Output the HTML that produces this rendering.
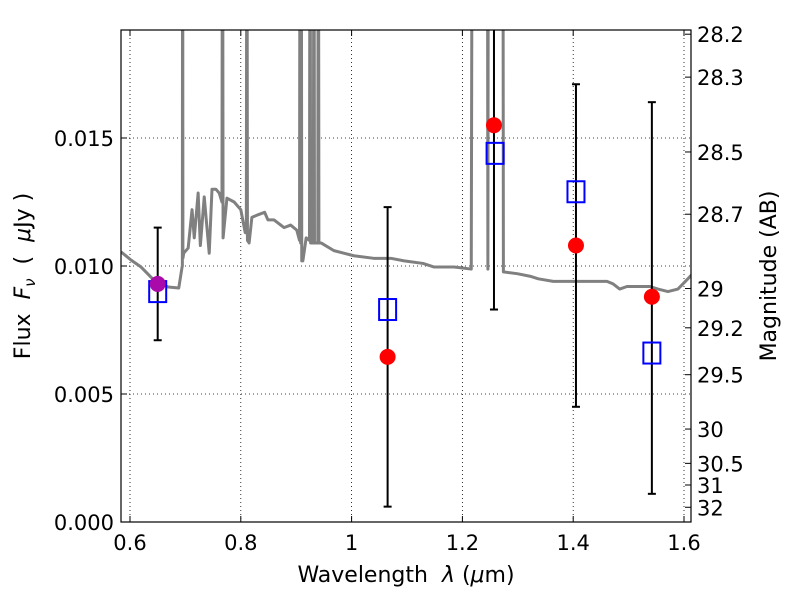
<!DOCTYPE html>
<html><head><meta charset="utf-8"><style>
body{margin:0;background:#fff;}
svg text{font-family:"DejaVu Sans","Liberation Sans",sans-serif;fill:#000;}
</style></head><body>
<svg id="c" width="800" height="600" xmlns="http://www.w3.org/2000/svg"></svg>
<script>
const xTicks=[0.6,0.8,1,1.2,1.4,1.6];
const xTickLabels=["0.6","0.8","1","1.2","1.4","1.6"];
const yTicks=[0,0.005,0.01,0.015];
const yTickLabels=["0.000","0.005","0.010","0.015"];
const magTicks=[28.2,28.3,28.5,28.7,29,29.2,29.5,30,30.5,31,32];
const magLabels=["28.2","28.3","28.5","28.7","29","29.2","29.5","30","30.5","31","32"];
const obsWave=[0.65,1.065,1.257,1.405,1.542];
const obsFlux=[0.0093,0.00645,0.0155,0.0108,0.0088];
const errLow=[0.0071,0.0006,0.0083,0.0045,0.0011];
const errHigh=[0.0115,0.0123,0.0250,0.0171,0.0164];
const modelWave=[0.65,1.065,1.259,1.405,1.542];
const modelFlux=[0.0090,0.0083,0.0144,0.0129,0.0066];
const specWave=[0.584,0.602,0.620,0.643,0.669,0.688,0.694,0.6945,0.695,0.6955,0.697,0.705,0.712,0.716,0.723,0.727,0.734,0.743,0.748,0.755,0.761,0.766,0.767,0.768,0.775,0.788,0.800,0.808,0.810,0.811,0.812,0.815,0.820,0.831,0.843,0.849,0.860,0.878,0.890,0.901,0.906,0.907,0.908,0.909,0.910,0.912,0.918,0.924,0.925,0.926,0.931,0.932,0.933,0.939,0.940,0.941,0.945,0.968,0.986,1.004,1.040,1.071,1.095,1.129,1.149,1.185,1.216,1.218,1.245,1.246,1.247,1.273,1.274,1.299,1.322,1.337,1.364,1.394,1.425,1.443,1.461,1.472,1.484,1.497,1.538,1.553,1.571,1.589,1.607,1.62];
const specFlux=[0.01055,0.01023,0.00996,0.00945,0.00918,0.00914,0.00996,0.010,0.03,0.0103,0.0105,0.0107,0.0122,0.0111,0.01285,0.0108,0.0127,0.0105,0.0130,0.0130,0.01285,0.0125,0.03,0.0111,0.01265,0.0125,0.0122,0.0113,0.0113,0.03,0.011,0.0109,0.0119,0.0120,0.0121,0.0118,0.0118,0.0115,0.0116,0.0114,0.0110,0.03,0.0109,0.03,0.0102,0.0102,0.0111,0.0110,0.03,0.0109,0.0109,0.03,0.0109,0.0109,0.03,0.0109,0.0109,0.0106,0.0105,0.0104,0.0103,0.0103,0.0102,0.0101,0.00996,0.00996,0.00988,0.03,0.03,0.00988,0.03,0.03,0.00977,0.0097,0.0096,0.0095,0.0094,0.0094,0.0094,0.0094,0.0094,0.0093,0.0091,0.0092,0.0092,0.0091,0.0090,0.0091,0.0095,0.0098];

const NS="http://www.w3.org/2000/svg";
const svg=document.getElementById('c');
const L=121,R=691,T=30,B=522;
const X=v=>130+(v-0.6)*554;
const Y=v=>522-v*25600;
const magY=m=>Y(Math.pow(10,(23.9-m)/2.5));
function mk(tag,attrs,parent){const e=document.createElementNS(NS,tag);for(const k in attrs)e.setAttribute(k,attrs[k]);(parent||svg).appendChild(e);return e;}
const defs=mk('defs',{});const cp=mk('clipPath',{id:'clip'},defs);mk('rect',{x:L,y:T,width:R-L,height:B-T},cp);
xTicks.forEach(v=>{const g=mk('line',{x1:X(v),x2:X(v),y1:T,y2:B,stroke:'#000','stroke-width':0.8,'stroke-dasharray':'1,3'});

});
yTicks.forEach(v=>{const g=mk('line',{x1:L,x2:R,y1:Y(v),y2:Y(v),stroke:'#000','stroke-width':0.8,'stroke-dasharray':'1,3'});

});
const gp=mk('g',{'clip-path':'url(#clip)'});
const sp=mk('polyline',{points:specWave.map((w,i)=>X(w)+','+Y(specFlux[i])).join(' '),fill:'none',stroke:'#808080','stroke-width':3,'stroke-linejoin':'round'},gp);


obsWave.forEach((w,i)=>{const x=X(w);const y1=Math.max(Y(errHigh[i]),T),y2=Y(errLow[i]);
const e=mk('line',{x1:x,x2:x,y1:y1,y2:y2,stroke:'#000','stroke-width':2},gp);


mk('line',{x1:x-4,x2:x+4,y1:y2,y2:y2,stroke:'#000','stroke-width':2},gp);
if(Y(errHigh[i])>T)mk('line',{x1:x-4,x2:x+4,y1:y1,y2:y1,stroke:'#000','stroke-width':2},gp);});
modelWave.forEach((w,i)=>{const s=mk('rect',{x:X(w)-8.5,y:Y(modelFlux[i])-10.5,width:17,height:21,fill:'none',stroke:'#0000ff','stroke-width':2},gp);

});
obsWave.forEach((w,i)=>{const c=mk('circle',{cx:X(w),cy:Y(obsFlux[i]),r:8,fill:i===0?'#aa0aaa':'#ff0000'},gp);

});
const fr=mk('rect',{x:L,y:T,width:R-L,height:B-T,fill:'none',stroke:'#000','stroke-width':1.2});


xTicks.forEach((v,i)=>{const x=X(v);mk('line',{x1:x,x2:x,y1:B,y2:B-6,stroke:'#000'});mk('line',{x1:x,x2:x,y1:T,y2:T+6,stroke:'#000'});
const t=mk('text',{x:x,y:B+28,'text-anchor':'middle','font-size':21});t.textContent=xTickLabels[i];

});
yTicks.forEach((v,i)=>{const y=Y(v);mk('line',{x1:L,x2:L+6,y1:y,y2:y,stroke:'#000'});
const t=mk('text',{x:L-7,y:y+8,'text-anchor':'end','font-size':21});t.textContent=yTickLabels[i];

});
magTicks.forEach((m,i)=>{const y=magY(m);mk('line',{x1:R,x2:R-6,y1:y,y2:y,stroke:'#000'});
const t=mk('text',{x:R+6,y:y+8,'font-size':21});t.textContent=magLabels[i];

});
</script>
<svg width="800" height="600" style="position:absolute;left:0;top:0" xmlns="http://www.w3.org/2000/svg">
<text x="406" y="582" text-anchor="middle" font-size="22" style="font-family:'DejaVu Sans','Liberation Sans',sans-serif" xml:space="preserve">Wavelength  <tspan font-style="italic">λ</tspan> (<tspan font-style="italic">μ</tspan>m)</text>
<text transform="translate(30,276) rotate(-90)" text-anchor="middle" font-size="22" style="font-family:'DejaVu Sans','Liberation Sans',sans-serif" xml:space="preserve">Flux  <tspan font-style="italic">F</tspan><tspan font-style="italic" font-size="15" dy="5">ν</tspan><tspan dy="-5">  (  </tspan><tspan font-style="italic">μ</tspan>Jy )</text>
<text transform="translate(776,276) rotate(-90)" text-anchor="middle" font-size="22" style="font-family:'DejaVu Sans','Liberation Sans',sans-serif">Magnitude (AB)</text>
</svg>
</body></html>
